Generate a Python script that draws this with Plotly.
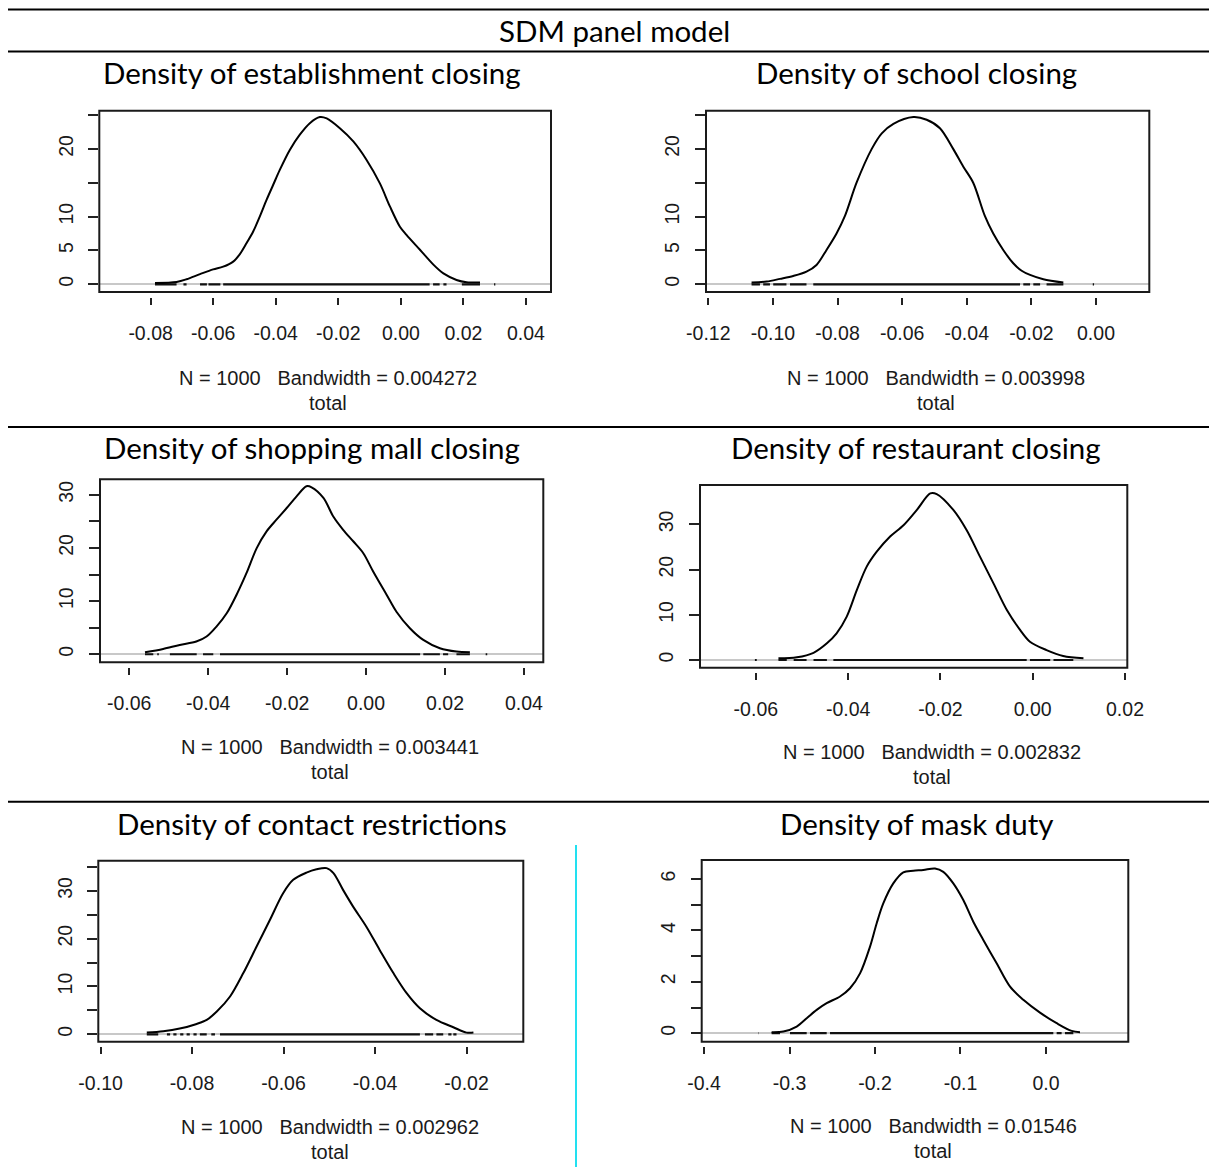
import plotly.graph_objects as go

W, H = 1209, 1167

# ---------------- data ----------------
main_title = "SDM panel model"
panel_titles = [
    "Density of establishment closing",
    "Density of school closing",
    "Density of shopping mall closing",
    "Density of restaurant closing",
    "Density of contact restrictions",
    "Density of mask duty",
]
bandwidths = ["0.004272", "0.003998", "0.003441", "0.002832", "0.002962", "0.01546"]
n_obs = 1000
xlab2 = "total"

# density curves
est_x = [-0.0786, -0.0717, -0.0685, -0.0642, -0.0600, -0.0568, -0.0536, -0.0514, -0.0493, -0.0472, -0.0451,
         -0.0429, -0.0408, -0.0387, -0.0355, -0.0323, -0.0291, -0.0259, -0.0237, -0.0195, -0.0152, -0.0110,
         -0.0067, -0.0035, -0.0003, 0.0018, 0.0061, 0.0104, 0.0136, 0.0178, 0.0210, 0.0253]
est_y = [0.2, 0.35, 0.74, 1.5, 2.2, 2.6, 3.35, 4.5, 6.1, 7.8, 10.0,
         12.5, 14.7, 16.9, 19.85, 22.1, 23.8, 24.7, 24.5, 23.05, 21.1, 18.4,
         14.9, 11.5, 8.5, 7.3, 5.1, 2.9, 1.6, 0.64, 0.3, 0.25]

sch_x = [-0.1066, -0.1019, -0.0978, -0.0937, -0.0896, -0.0865, -0.0834, -0.0803, -0.0777, -0.0741, -0.0694,
         -0.0663, -0.0627, -0.0565, -0.0524, -0.0483, -0.0442, -0.0411, -0.0380, -0.0344, -0.0318, -0.0287,
         -0.0256, -0.0230, -0.0204, -0.0163, -0.0101]
sch_y = [0.25, 0.4, 0.8, 1.23, 1.87, 2.86, 5.07, 7.5, 10.1, 15.0, 20.0,
         22.3, 23.7, 24.7, 24.3, 23.05, 20.0, 17.4, 15.0, 10.1, 7.5, 5.07,
         3.1, 2.0, 1.38, 0.74, 0.25]

mall_x = [-0.0560, -0.0514, -0.0472, -0.0430, -0.0404, -0.0379, -0.0353, -0.0328, -0.0303, -0.0277, -0.0252,
          -0.0227, -0.0201, -0.0176, -0.0151, -0.0138, -0.0108, -0.0083, -0.0058, -0.0032, -0.0007, 0.0018,
          0.0052, 0.0077, 0.0111, 0.0145, 0.0187, 0.0229, 0.0263]
mall_y = [0.38, 1.0, 1.76, 2.39, 3.33, 5.2, 7.7, 11.2, 15.25, 19.96, 23.1,
          25.3, 27.5, 29.7, 31.6, 31.4, 29.4, 25.9, 23.4, 21.2, 19.0, 15.57,
          11.2, 8.0, 4.9, 2.7, 1.13, 0.5, 0.38]

rest_x = [-0.0551, -0.0511, -0.0475, -0.0446, -0.0425, -0.0403, -0.0381, -0.0360, -0.0338, -0.0309, -0.0280,
          -0.0251, -0.0222, -0.0208, -0.0172, -0.0143, -0.0114, -0.0085, -0.0056, -0.0027, -0.0006, 0.0030,
          0.0066, 0.0110]
rest_y = [0.37, 0.6, 1.6, 3.7, 5.9, 9.6, 15.5, 20.6, 23.95, 27.3, 29.8,
          33.2, 36.85, 36.7, 33.2, 28.7, 22.8, 16.95, 11.05, 6.6, 4.05, 2.2,
          0.88, 0.37]

cont_x = [-0.0899, -0.0863, -0.0827, -0.0790, -0.0768, -0.0746, -0.0717, -0.0688, -0.0659, -0.0630, -0.0601,
          -0.0579, -0.0550, -0.0528, -0.0506, -0.0491, -0.0470, -0.0448, -0.0419, -0.0390, -0.0360, -0.0331,
          -0.0302, -0.0266, -0.0229, -0.0200, -0.0185]
cont_y = [0.35, 0.63, 1.19, 2.16, 3.0, 4.75, 7.9, 12.8, 18.35, 23.9, 29.5,
          32.3, 33.8, 34.5, 34.75, 33.7, 30.2, 26.7, 22.5, 17.65, 12.8, 8.6,
          5.44, 3.0, 1.47, 0.35, 0.35]

mask_x = [-0.3209, -0.3072, -0.2916, -0.2799, -0.2682, -0.2565, -0.2409, -0.2292, -0.2175, -0.2058, -0.1980,
          -0.1903, -0.1786, -0.1669, -0.1552, -0.1435, -0.1298, -0.1201, -0.1084, -0.0967, -0.0850, -0.0733,
          -0.0577, -0.0420, -0.0265, -0.0070, 0.0125, 0.0300, 0.0398]
mask_y = [0.04, 0.065, 0.26, 0.58, 0.91, 1.17, 1.43, 1.75, 2.33, 3.37, 4.28,
          5.05, 5.83, 6.26, 6.32, 6.35, 6.41, 6.28, 5.83, 5.18, 4.34, 3.63,
          2.72, 1.81, 1.3, 0.8, 0.39, 0.09, 0.04]

# rug (data points along y = 0), as [start, end] stretches
est_rug = [(-0.0786, -0.0717), (-0.0695, -0.0685), (-0.0642, -0.0620), (-0.0615, -0.0577), (-0.0568, 0.0092),
           (0.0103, 0.0124), (0.0136, 0.0146), (0.0195, 0.0253), (0.0298, 0.0302)]
sch_rug = [(-0.1066, -0.1040), (-0.1030, -0.1009), (-0.0999, -0.0958), (-0.0947, -0.0896), (-0.0875, -0.0235),
           (-0.0225, -0.0204), (-0.0194, -0.0173), (-0.0153, -0.0101), (-0.0010, -0.0006)]
mall_rug = [(-0.0560, -0.0539), (-0.0529, -0.0525), (-0.0497, -0.0429), (-0.0413, -0.0387), (-0.0370, 0.0137),
            (0.0145, 0.0187), (0.0195, 0.0208), (0.0229, 0.0263), (0.0303, 0.0307)]
rest_rug = [(-0.0602, -0.0598), (-0.0551, -0.0533), (-0.0518, -0.0490), (-0.0475, -0.0446), (-0.0432, -0.0013),
            (-0.0006, 0.0038), (0.0045, 0.0088)]
cont_rug = [(-0.0899, -0.0874), (-0.0855, -0.0848), (-0.0841, -0.0834), (-0.0826, -0.0819), (-0.0812, -0.0805),
            (-0.0797, -0.0790), (-0.0783, -0.0768), (-0.0758, -0.0750), (-0.0739, -0.0302), (-0.0291, -0.0273),
            (-0.0266, -0.0251), (-0.0240, -0.0233), (-0.0229, -0.0222)]
mask_rug = [(-0.3367, -0.3363), (-0.3209, -0.3111), (-0.2994, -0.2799), (-0.2760, -0.2565), (-0.2526, 0.0086),
            (0.0125, 0.0183), (0.0222, 0.0320)]

curves_x = [est_x, sch_x, mall_x, rest_x, cont_x, mask_x]
curves_y = [est_y, sch_y, mall_y, rest_y, cont_y, mask_y]
rugs = [est_rug, sch_rug, mall_rug, rest_rug, cont_rug, mask_rug]

# axis ticks
x_tickvals = [
    [-0.08, -0.06, -0.04, -0.02, 0.00, 0.02, 0.04],
    [-0.12, -0.10, -0.08, -0.06, -0.04, -0.02, 0.00],
    [-0.06, -0.04, -0.02, 0.00, 0.02, 0.04],
    [-0.06, -0.04, -0.02, 0.00, 0.02],
    [-0.10, -0.08, -0.06, -0.04, -0.02],
    [-0.4, -0.3, -0.2, -0.1, 0.0],
]
x_ticktext = [
    ["-0.08", "-0.06", "-0.04", "-0.02", "0.00", "0.02", "0.04"],
    ["-0.12", "-0.10", "-0.08", "-0.06", "-0.04", "-0.02", "0.00"],
    ["-0.06", "-0.04", "-0.02", "0.00", "0.02", "0.04"],
    ["-0.06", "-0.04", "-0.02", "0.00", "0.02"],
    ["-0.10", "-0.08", "-0.06", "-0.04", "-0.02"],
    ["-0.4", "-0.3", "-0.2", "-0.1", "0.0"],
]
y_tickvals = [
    [0, 5, 10, 15, 20, 25],
    [0, 5, 10, 15, 20, 25],
    [0, 5, 10, 15, 20, 25, 30],
    [0, 10, 20, 30],
    [0, 5, 10, 15, 20, 25, 30, 35],
    [0, 1, 2, 3, 4, 5, 6],
]
y_ticktext = [
    ["0", "5", "10", "", "20", ""],
    ["0", "5", "10", "", "20", ""],
    ["0", "", "10", "", "20", "", "30"],
    ["0", "10", "20", "30"],
    ["0", "", "10", "", "20", "", "30", ""],
    ["0", "", "2", "", "4", "", "6"],
]

# ---------------- layout geometry (pixels) ----------------
# plot box: left, top, right, bottom (px);  x range at box edges; y range at box edges
boxes = [
    (99.3, 110.7, 551.0, 292.0),
    (706.0, 110.7, 1149.3, 292.0),
    (100.0, 479.3, 543.3, 662.3),
    (700.0, 485.0, 1127.3, 667.7),
    (98.3, 860.7, 523.3, 1041.7),
    (701.7, 860.0, 1128.3, 1041.7),
]
x_ranges = [(-0.0964, 0.0480), (-0.1207, 0.0165), (-0.0674, 0.0449),
            (-0.0721, 0.0205), (-0.1005, -0.0076), (-0.4027, 0.0963)]
y_ranges = [(-1.14, 25.64), (-1.14, 25.64), (-1.51, 32.9),
            (-1.70, 38.7), (-1.55, 36.3), (-0.33, 6.74)]
title_pos = [(312, 73), (916, 73), (312, 448), (916, 448), (312, 823), (916, 823)]
sub_pos = [(328, 378), (936, 378), (330, 747), (932, 752), (330, 1127), (933, 1126)]
GAP = 4.5  # gap between box bottom and x ticks (px)

TICK_FONT = dict(family="Liberation Sans, Arial, sans-serif", size=19.5, color="#1a1a1a")
SUB_FONT = dict(family="Liberation Sans, Arial, sans-serif", size=20, color="#1a1a1a")
TITLE_FONT = dict(family="Lato, Carlito, Calibri, sans-serif", size=29.5, color="#000000")


def px_x(p):
    return p / W


def px_y(p):
    return 1 - p / H


fig = go.Figure()
layout = dict(
    template="none",
    width=W, height=H, autosize=False, margin=dict(l=0, r=0, t=0, b=0, pad=0, autoexpand=False),
    paper_bgcolor="white", plot_bgcolor="white", showlegend=False,
)
shapes = []
annotations = []

for i in range(6):
    ax = "" if i == 0 else str(i + 1)
    L, T, R, B = boxes[i]
    y0r, y1r = y_ranges[i]
    per_px = (y1r - y0r) / (B - T)
    y_bottom = y0r - GAP * per_px

    # rug
    rx, ry = [], []
    for a, b in rugs[i]:
        rx += [a, b, None]
        ry += [0, 0, None]
    fig.add_trace(go.Scatter(x=rx, y=ry, mode="lines", line=dict(color="#111111", width=2.2),
                             xaxis="x" + ax, yaxis="y" + ax, hoverinfo="skip"))
    # density curve
    fig.add_trace(go.Scatter(x=curves_x[i], y=curves_y[i], mode="lines",
                             line=dict(color="#000000", width=2, shape="spline", smoothing=0.9),
                             xaxis="x" + ax, yaxis="y" + ax))

    layout["xaxis" + ax] = dict(
        domain=[px_x(L), px_x(R)], range=list(x_ranges[i]), anchor="y" + ax, automargin=False,
        showgrid=False, zeroline=False, showline=False,
        tickmode="array", tickvals=x_tickvals[i], ticktext=x_ticktext[i],
        ticks="outside", ticklen=7, tickwidth=2, tickcolor="#222222",
        tickfont=TICK_FONT, ticklabelstandoff=12,
    )
    layout["yaxis" + ax] = dict(
        domain=[px_y(B + GAP), px_y(T)], range=[y_bottom, y1r], anchor="x" + ax, automargin=False,
        showgrid=False, zeroline=True, zerolinecolor="#c8c8c8", zerolinewidth=2, showline=False,
        tickmode="array", tickvals=y_tickvals[i], ticktext=y_ticktext[i],
        ticks="outside", ticklen=10, tickwidth=2, tickcolor="#222222",
        tickfont=TICK_FONT, tickangle=-90, ticklabelstandoff=8,
    )
    # plot frame
    shapes.append(dict(type="rect", xref="x" + ax + " domain", yref="y" + ax + " domain",
                       x0=0, x1=1, y0=GAP / (B + GAP - T), y1=1,
                       line=dict(color="#1a1a1a", width=2)))

    tx, ty = title_pos[i]
    annotations.append(dict(text=panel_titles[i], x=px_x(tx), y=px_y(ty), xref="paper", yref="paper",
                            showarrow=False, font=TITLE_FONT, xanchor="center", yanchor="middle"))
    sx, sy = sub_pos[i]
    annotations.append(dict(text=f"N = {n_obs}   Bandwidth = {bandwidths[i]}", x=px_x(sx), y=px_y(sy),
                            xref="paper", yref="paper", showarrow=False, font=SUB_FONT,
                            xanchor="center", yanchor="middle"))
    annotations.append(dict(text=xlab2, x=px_x(sx), y=px_y(sy + 25), xref="paper", yref="paper",
                            showarrow=False, font=SUB_FONT, xanchor="center", yanchor="middle"))

annotations.append(dict(text=main_title, x=px_x(614), y=px_y(30), xref="paper", yref="paper",
                        showarrow=False, font=TITLE_FONT, xanchor="center", yanchor="middle"))

# table rules
for yy in [9.5, 51.5, 427.0, 801.7]:
    shapes.append(dict(type="line", xref="paper", yref="paper", x0=px_x(8), x1=1,
                       y0=px_y(yy), y1=px_y(yy), line=dict(color="#000000", width=2)))
# cyan edge of pasted image (bottom-left)
shapes.append(dict(type="line", xref="paper", yref="paper", x0=px_x(576), x1=px_x(576),
                   y0=px_y(845), y1=0, line=dict(color="#22e0f0", width=2)))

layout["shapes"] = shapes
layout["annotations"] = annotations
fig.update_layout(**layout)
fig.write_html(
    "out.html",
    config={"responsive": False, "displayModeBar": False},
    post_script="document.body.style.margin='0';document.body.style.overflow='hidden';",
)
